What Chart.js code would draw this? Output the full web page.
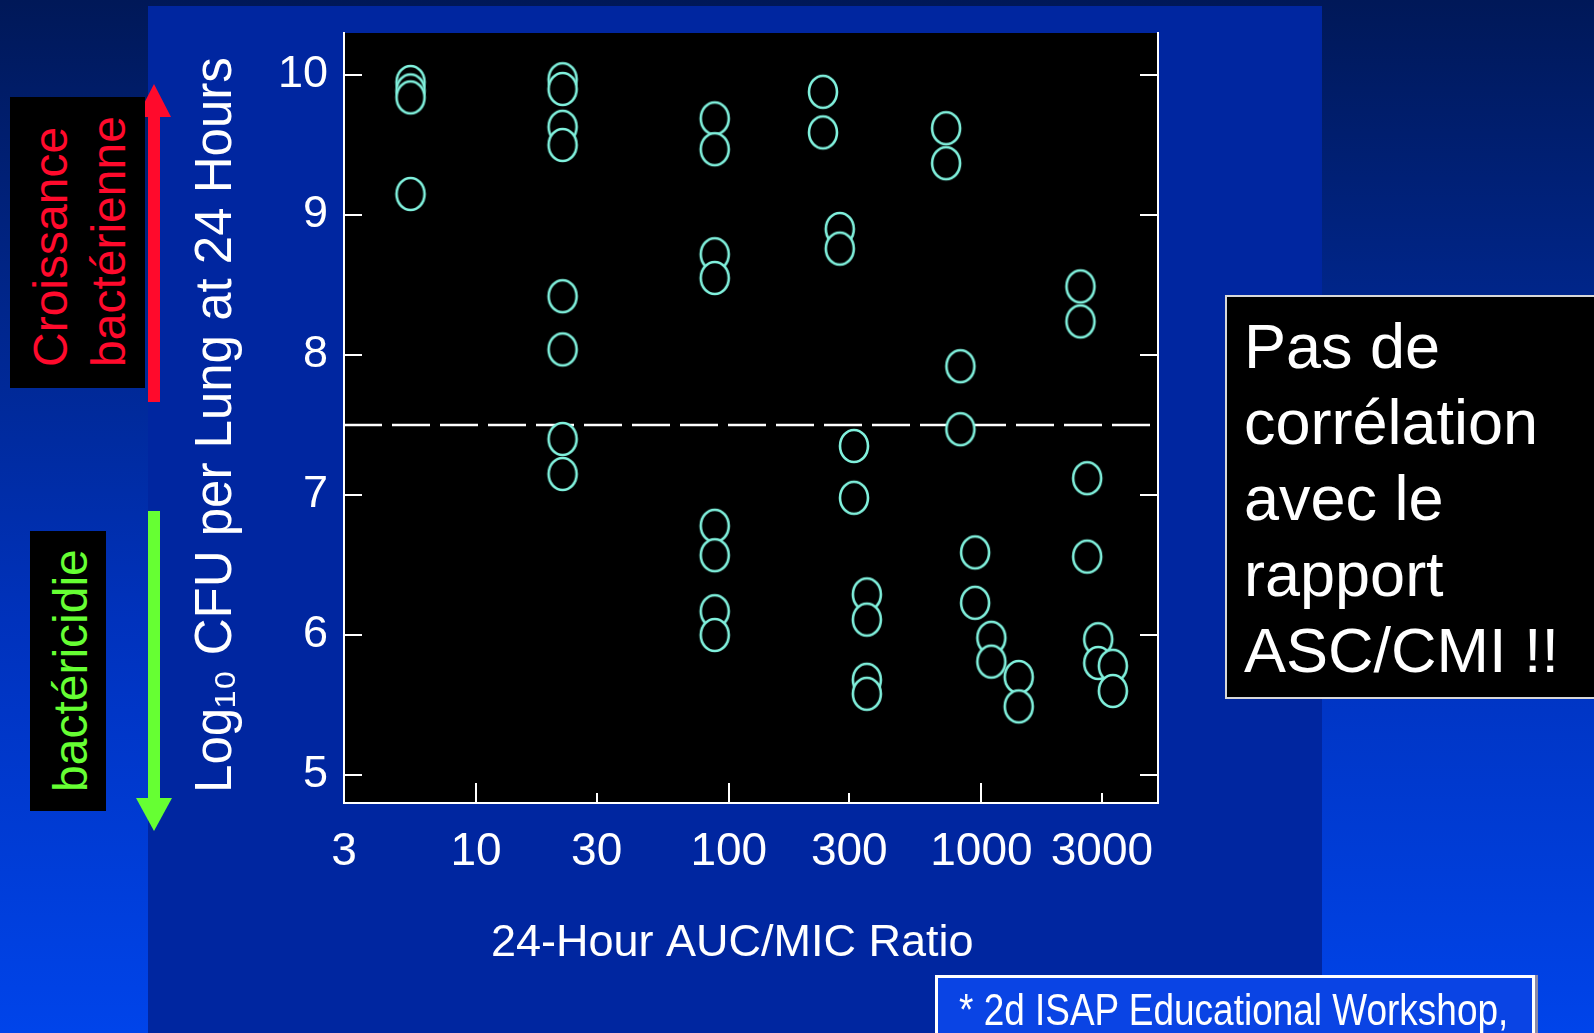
<!DOCTYPE html>
<html>
<head>
<meta charset="utf-8">
<script src="https://cdn.jsdelivr.net/npm/chart.js@4.4.1/dist/chart.umd.min.js"></script>
<style>
  html, body { margin: 0; padding: 0; width: 1594px; height: 1033px; overflow: hidden; }
  body {
    position: relative;
    font-family: 'Liberation Sans', Arial, sans-serif;
    background: linear-gradient(to bottom, #001858 0%, #00268c 30%, #0032bc 60%, #0044ea 100%);
  }
  #panel { position: absolute; left: 148px; top: 6px; width: 1174px; height: 1027px; background: #0026a0; }
  #plot { position: absolute; left: 0; top: 0; }
  #arrows { position: absolute; left: 0; top: 0; }
  .tag { position: absolute; background: #000; overflow: hidden; }
  .vtext {
    position: absolute; white-space: nowrap;
    font-size: 48px; line-height: 58px;
    transform: rotate(-90deg); transform-origin: left top;
  }
  #growth { left: 10px; top: 97px; width: 135px; height: 291px; }
  #growth .vtext { color: #ff0a2c; left: 12px; top: 270px; }
  #kill { left: 30px; top: 531px; width: 76px; height: 280px; }
  #kill .vtext { color: #66ff33; left: 12px; top: 261px; }
  #note {
    position: absolute; left: 1225px; top: 295px; width: 380px; height: 404px;
    background: #000; border: 2px solid #d8d8d8; box-sizing: border-box;
    color: #fff; font-size: 63px; line-height: 76px;
    padding: 11px 0 0 17px;
  }
  #source {
    position: absolute; left: 935px; top: 975px; width: 600px; height: 80px;
    background: #0a44e4; border: 3px solid #fff; box-sizing: border-box;
    box-shadow: 3px 0 0 #8a8aa8;
  }
  #source span {
    position: absolute; left: 21px; top: 10px; white-space: nowrap;
    color: #fff; font-size: 44px; line-height: 44px;
    transform: scaleX(0.84); transform-origin: left top;
  }
</style>
</head>
<body>
<div id="panel"></div>

<svg id="arrows" width="1594" height="1033">
  <rect x="148" y="116" width="12" height="286" fill="#ff0a2c"/>
  <polygon points="154,84 137,117 171,117" fill="#ff0a2c"/>
  <rect x="148" y="511" width="12" height="289" fill="#66ff33"/>
  <polygon points="136,798 172,798 154,831" fill="#66ff33"/>
</svg>

<div class="tag" id="growth"><div class="vtext">Croissance<br>bactérienne</div></div>
<div class="tag" id="kill"><div class="vtext">bactéricidie</div></div>

<canvas id="plot" width="1594" height="1033"></canvas>

<div id="note">Pas de<br>corrélation<br>avec le<br>rapport<br>ASC/CMI !!</div>
<div id="source"><span>* 2d ISAP Educational Workshop,</span></div>

<script>
// 24-hour AUC/MIC ratio for each animal, and the matching log10 CFU per lung
const aucMicRatio = [
  5.5, 5.5, 5.5, 5.5,
  22, 22, 22, 22, 22, 22, 22, 22,
  88, 88, 88, 88, 88, 88, 88, 88,
  236, 236, 275, 275, 313, 313, 352, 352, 352, 352,
  725, 725, 826, 826, 944, 944, 1095, 1095, 1405, 1405,
  2466, 2466, 2621, 2621, 2900, 2900, 3313, 3313
];
const log10Cfu = [
  9.95, 9.89, 9.84, 9.15,
  9.97, 9.90, 9.63, 9.50, 8.42, 8.04, 7.40, 7.15,
  9.69, 9.47, 8.72, 8.55, 6.78, 6.57, 6.17, 6.00,
  9.88, 9.59, 8.90, 8.76, 7.35, 6.98, 6.29, 6.11, 5.68, 5.58,
  9.62, 9.37, 7.92, 7.47, 6.59, 6.23, 5.98, 5.81, 5.70, 5.49,
  8.49, 8.24, 7.12, 6.56, 5.97, 5.80, 5.78, 5.60
];

// Stasis level drawn as a dashed reference line
const stasisLevel = 7.5;

// Axis ranges and tick values
const xRange = [3, 5000];
const yRange = [4.8, 10.3];
const xTickValues = [3, 10, 30, 100, 300, 1000, 3000];
const xTickLabels = ['3', '10', '30', '100', '300', '1000', '3000'];
const xDecadeTicks = [10, 100, 1000];
const yTickValues = [5, 6, 7, 8, 9, 10];

// Use a narrow sans face for the x axis when the system offers one
function findNarrowFace() {
  const g = document.createElement('canvas').getContext('2d');
  const probe = '24-Hour AUC/MIC 1000';
  g.font = '40px monospace';
  const base = g.measureText(probe).width;
  for (const f of ['Liberation Sans Narrow', 'Arial Narrow']) {
    g.font = `40px "${f}", monospace`;
    if (Math.abs(g.measureText(probe).width - base) > 0.5) return f;
  }
  return null;
}
const narrow = findNarrowFace();
const xFamily = narrow ? `"${narrow}", "Liberation Sans", Arial, sans-serif` : '"Liberation Sans", Arial, sans-serif';
const xTickSize = narrow ? 52 : 46;
const xTitleSize = narrow ? 54 : 45;

// Open ring marker with a black centre
function makeRing() {
  const c = document.createElement('canvas');
  c.width = 34; c.height = 38;
  const g = c.getContext('2d');
  g.beginPath();
  g.ellipse(17, 19, 14, 16, 0, 0, Math.PI * 2);
  g.fillStyle = '#000';
  g.fill();
  g.lineWidth = 2.6;
  g.strokeStyle = '#80f0dc';
  g.stroke();
  return c;
}

const plotBackground = {
  id: 'plotBackground',
  beforeDraw(chart) {
    const { ctx, chartArea: a } = chart;
    ctx.save();
    ctx.fillStyle = '#000';
    ctx.fillRect(a.left, a.top, a.right - a.left, a.bottom - a.top);
    ctx.restore();
  }
};

const points = aucMicRatio.map((x, i) => ({ x, y: log10Cfu[i] }));
const stasisLine = [{ x: xRange[0], y: stasisLevel }, { x: xRange[1], y: stasisLevel }];

const white = '#ffffff';
const setTicks = values => scale => { scale.ticks = values.map(v => ({ value: v })); };
// Fixed box sizes; labels never need extra room beyond the plot edges
const fixWidth = w => s => { s.width = w; s.paddingTop = 0; s.paddingBottom = 0; };
const fixHeight = h => s => { s.height = h; s.paddingLeft = 0; s.paddingRight = 0; };

new Chart(document.getElementById('plot'), {
  type: 'scatter',
  data: {
    datasets: [
      {
        type: 'line',
        data: stasisLine,
        showLine: true,
        borderColor: white,
        borderWidth: 2.5,
        borderDash: [38, 10],
        pointRadius: 0,
        order: 2
      },
      {
        data: points,
        pointStyle: makeRing(),
        pointRadius: 16,
        order: 1
      }
    ]
  },
  options: {
    responsive: false,
    animation: false,
    events: [],
    layout: { padding: { left: 180, right: 436, top: 33, bottom: 50 } },
    plugins: { legend: { display: false }, tooltip: { enabled: false } },
    scales: {
      x: {
        type: 'logarithmic',
        position: 'bottom',
        weight: 1,
        min: xRange[0],
        max: xRange[1],
        afterBuildTicks: setTicks(xTickValues),
        afterFit: fixHeight(180),
        grid: {
          drawOnChartArea: false,
          tickLength: -10,
          lineWidth: 2,
          color: white,
          tickColor: c => (c.index === 0 ? 'rgba(0,0,0,0)' : white)
        },
        border: { display: true, color: white, width: 2 },
        ticks: {
          color: white,
          autoSkip: false,
          maxRotation: 0,
          padding: 36,
          font: { family: xFamily, size: xTickSize, lineHeight: 1 },
          callback: (v, i) => xTickLabels[i]
        },
        title: {
          display: true,
          text: '24-Hour AUC/MIC Ratio   ',
          color: white,
          font: { family: xFamily, size: xTitleSize },
          padding: { top: 0, bottom: 12 }
        }
      },
      xDecades: {
        type: 'logarithmic',
        position: 'bottom',
        weight: 0,
        min: xRange[0],
        max: xRange[1],
        afterBuildTicks: setTicks(xDecadeTicks),
        afterFit: fixHeight(0),
        grid: { drawOnChartArea: false, tickLength: -20, lineWidth: 2, color: white },
        border: { display: false },
        ticks: { display: false }
      },
      y: {
        type: 'linear',
        position: 'left',
        min: yRange[0],
        max: yRange[1],
        afterBuildTicks: setTicks(yTickValues),
        afterFit: fixWidth(164),
        grid: { drawOnChartArea: false, tickLength: -18, lineWidth: 2, color: white },
        border: { display: true, color: white, width: 2 },
        ticks: {
          color: white,
          padding: 34,
          font: { family: '"Liberation Sans", Arial, sans-serif', size: 45 }
        },
        title: {
          display: true,
          text: 'Log₁₀ CFU per Lung at 24 Hours ',
          color: white,
          font: { family: '"Liberation Sans", Arial, sans-serif', size: 51 },
          padding: { top: 6, bottom: 0 }
        }
      },
      yRight: {
        type: 'linear',
        position: 'right',
        min: yRange[0],
        max: yRange[1],
        afterBuildTicks: setTicks(yTickValues),
        afterFit: fixWidth(0),
        grid: { drawOnChartArea: false, tickLength: -18, lineWidth: 2, color: white },
        border: { display: true, color: white, width: 2 },
        ticks: { display: false }
      }
    }
  },
  plugins: [plotBackground]
});
</script>
</body>
</html>
